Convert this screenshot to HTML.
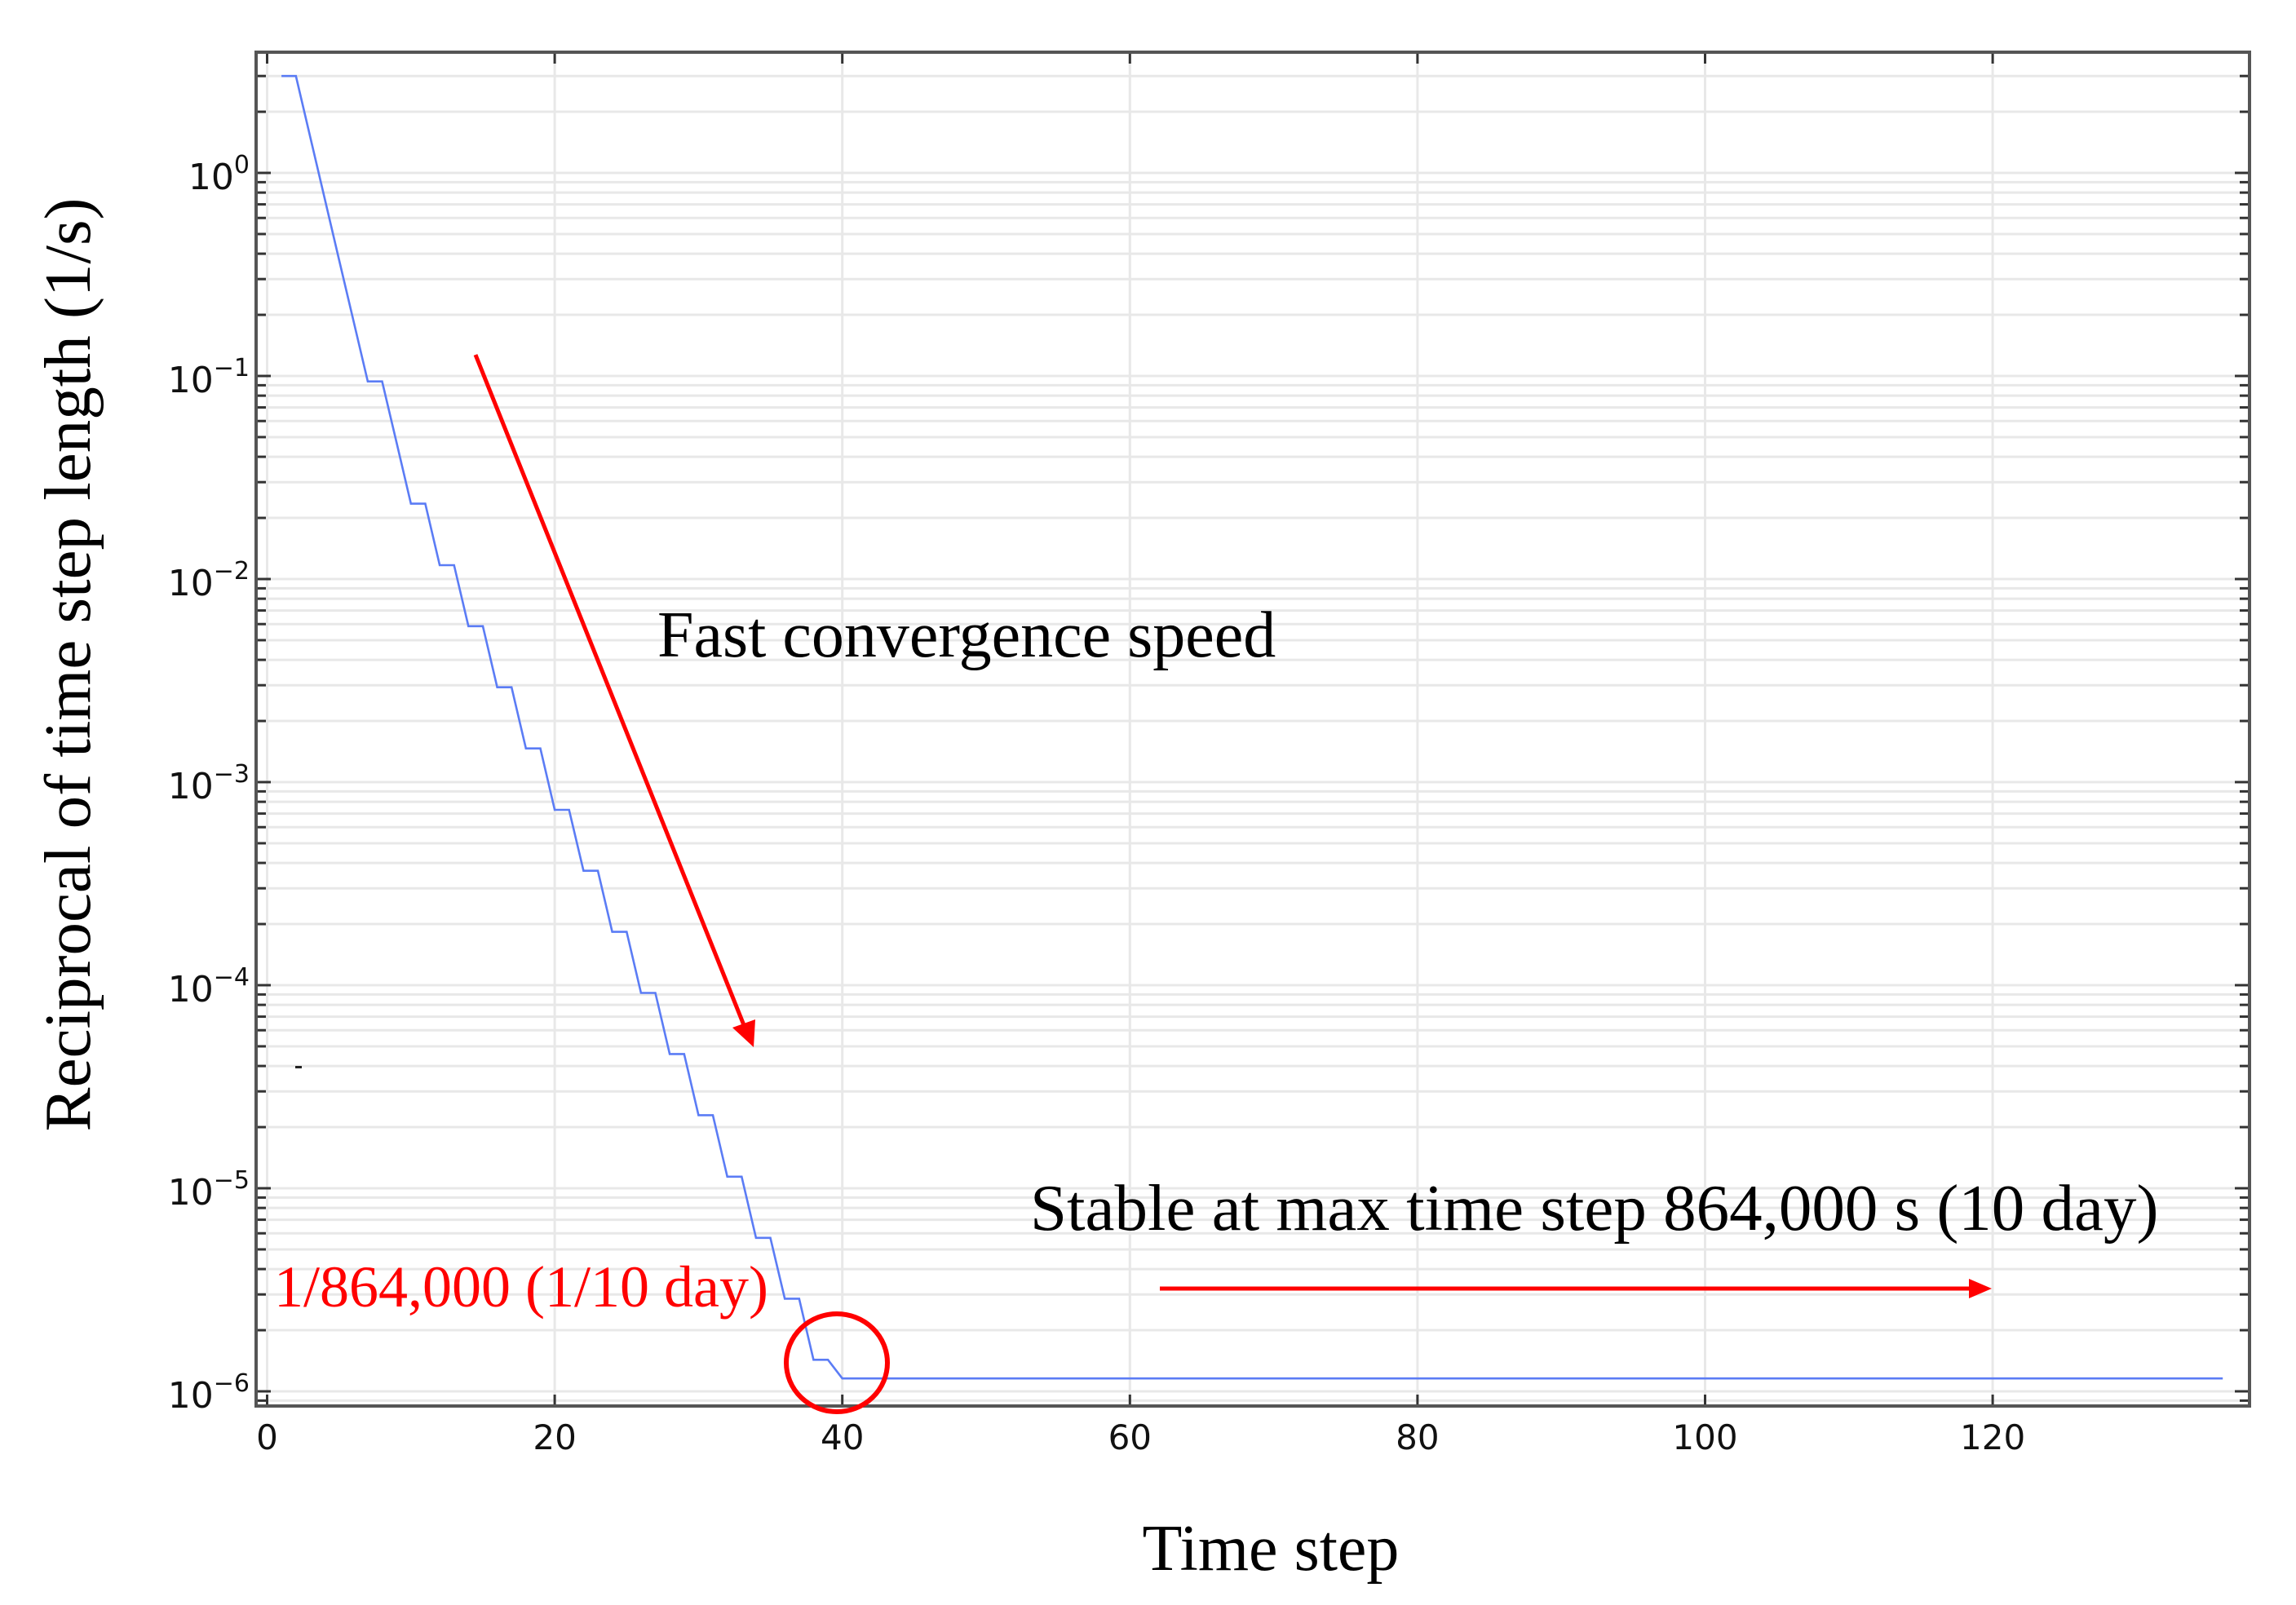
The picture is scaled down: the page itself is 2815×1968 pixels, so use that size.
<!DOCTYPE html>
<html><head><meta charset="utf-8"><style>
html,body{margin:0;padding:0;background:#fff;}
svg{display:block;}
</style></head><body>
<svg id="chart" width="2815" height="1968" viewBox="0 0 2815 1968" xmlns="http://www.w3.org/2000/svg">
<g id="grid"></g>
<g id="ticks"></g>
<path id="series" fill="none" stroke="#5b7cf5" stroke-width="2.6"/>
<rect x="314" y="64" width="2444" height="1660" fill="none" stroke="#555" stroke-width="4"/>
<g id="xlabels" font-family="'DejaVu Sans', sans-serif" font-size="42" fill="#111" text-anchor="middle"></g>
<g id="ylabels" font-family="'DejaVu Sans', sans-serif" fill="#111" text-anchor="end"></g>
<text x="1558" y="1925" font-family="'Liberation Serif', serif" font-size="80" text-anchor="middle">Time step</text>
<text transform="translate(110,815) rotate(-90)" font-family="'Liberation Serif', serif" font-size="81" text-anchor="middle">Reciprocal of time step length (1/s)</text>
<text x="806" y="805" font-family="'Liberation Serif', serif" font-size="80">Fast convergence speed</text>
<text x="1263" y="1508" font-family="'Liberation Serif', serif" font-size="81">Stable at max time step 864,000 s (10 day)</text>
<text x="336" y="1602" font-family="'Liberation Serif', serif" font-size="72" fill="#f00">1/864,000 (1/10 day)</text>
<line x1="583" y1="435" x2="914" y2="1262" stroke="#f00" stroke-width="5"/>
<polygon points="924,1284 898,1260 926,1250" fill="#f00"/>
<line x1="1422" y1="1580" x2="2420" y2="1580" stroke="#f00" stroke-width="5"/>
<polygon points="2442,1580 2414,1568 2414,1592" fill="#f00"/>
<ellipse cx="1026" cy="1671" rx="62" ry="60" fill="none" stroke="#f00" stroke-width="6"/>
<rect x="362" y="1307" width="8" height="3" fill="#222"/>
</svg>
<script>
const xs = [1,2,3,4,5,6,7,8,9,10,11,12,13,14,15,16,17,18,19,20,21,22,23,24,25,26,27,28,29,30,31,32,33,34,35,36,37,38,39,40,136];
const vals = [3,3,1.5,0.75,0.375,0.1875,0.094,0.094,0.047,0.0235,0.0235,0.0117,0.0117,0.00586,0.00586,0.00293,0.00293,0.001465,0.001465,0.00073,0.00073,0.000366,0.000366,0.000183,0.000183,0.0000916,0.0000916,0.0000458,0.0000458,0.0000229,0.0000229,0.0000114,0.0000114,0.0000057,0.0000057,0.00000286,0.00000286,0.00000143,0.00000143,0.000001157,0.000001157];
const xTicks = [0,20,40,60,80,100,120];
const yDecades = [0,-1,-2,-3,-4,-5,-6];

const X0 = 327.5, XS = 17.63, Y0 = 212, YD = 249, L = 314, R = 2758, T = 64, B = 1724;
const sx = v => X0 + v * XS;
const sy = v => Y0 - Math.log10(v) * YD;
const NS = 'http://www.w3.org/2000/svg';
function mk(tag, attrs, parent) { const e = document.createElementNS(NS, tag); for (const k in attrs) e.setAttribute(k, attrs[k]); parent.appendChild(e); return e; }

const grid = document.getElementById('grid'), ticks = document.getElementById('ticks');
for (let d = -7; d <= 0; d++) {
  for (let m = 1; m <= 9; m++) {
    const y = sy(m * Math.pow(10, d));
    if (y < T || y > B) continue;
    const g = mk('line', {x1: L, x2: R, y1: y, y2: y, stroke: '#e8e8e8', 'stroke-width': 3}, grid);
    
    
    const len = m === 1 ? 18 : 12;
    const t1 = mk('line', {x1: L, x2: L + len, y1: y, y2: y, stroke: '#333', 'stroke-width': 3}, ticks);
    
    
    const t2 = mk('line', {x1: R - len, x2: R, y1: y, y2: y, stroke: '#333', 'stroke-width': 3}, ticks);
    
    
  }
}
const xl = document.getElementById('xlabels');
xTicks.forEach(v => {
  const x = sx(v);
  const g = mk('line', {x1: x, x2: x, y1: T, y2: B, stroke: '#e8e8e8', 'stroke-width': 3}, grid);
  
  
  const t1 = mk('line', {x1: x, x2: x, y1: B - 14, y2: B, stroke: '#333', 'stroke-width': 3}, ticks);
  
  
  const t2 = mk('line', {x1: x, x2: x, y1: T, y2: T + 14, stroke: '#333', 'stroke-width': 3}, ticks);
  
  
  const tx = mk('text', {x: x, y: 1777}, xl);
  tx.textContent = String(v);
  
  
});
const yl = document.getElementById('ylabels');
yDecades.forEach(d => {
  const y = sy(Math.pow(10, d));
  const t = mk('text', {x: 306, y: y + 20, 'font-size': 44}, yl);
  
  
  const base = document.createElementNS(NS, 'tspan'); base.textContent = '10'; t.appendChild(base);
  const sup = document.createElementNS(NS, 'tspan'); sup.setAttribute('dy', '-20'); sup.setAttribute('font-size', '30');
  sup.textContent = d === 0 ? '0' : '\u2212' + (-d); t.appendChild(sup);
});
let dstr = '';
xs.forEach((x, i) => { dstr += (i ? 'L' : 'M') + sx(x).toFixed(1) + ',' + sy(vals[i]).toFixed(1); });
document.getElementById('series').setAttribute('d', dstr);
</script>
</body></html>
